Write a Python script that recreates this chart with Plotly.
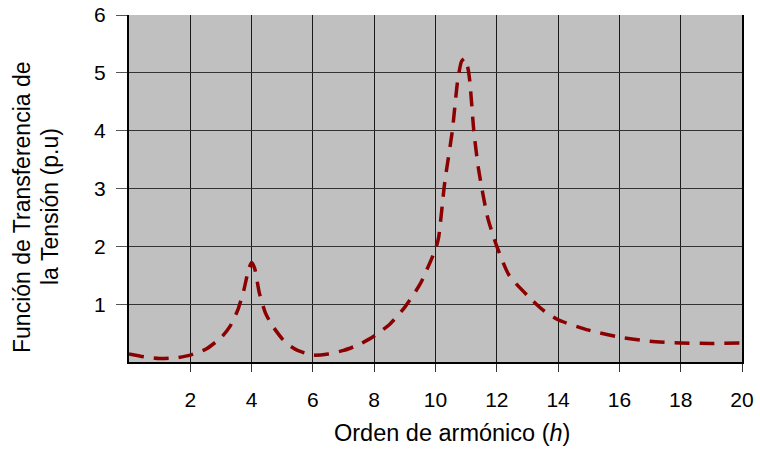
import plotly.graph_objects as go

# harmonic order and voltage transfer function (p.u.)
harmonic = [0, 0.5, 1, 1.5, 2, 2.5, 3, 3.3, 3.55, 3.75, 3.9, 4.0, 4.1, 4.25, 4.45,
            4.65, 5.0, 5.2, 5.5, 6.0, 6.5, 7, 7.5, 8, 8.5, 9, 9.5, 10, 10.1, 10.3,
            10.55, 10.72, 10.85, 10.95, 11.05, 11.12, 11.25, 11.4, 11.7, 12.0, 12.4,
            13, 13.5, 14, 15, 16, 17, 18, 19, 20]
transfer = [0.14, 0.09, 0.06, 0.07, 0.12, 0.22, 0.42, 0.62, 0.9, 1.25, 1.6, 1.72,
            1.62, 1.2, 0.85, 0.65, 0.4, 0.3, 0.2, 0.12, 0.14, 0.2, 0.3, 0.45, 0.65,
            0.95, 1.35, 1.95, 2.15, 3.1, 4.0, 4.85, 5.2, 5.25, 5.1, 4.85, 4.0, 3.35,
            2.5, 2.0, 1.5, 1.15, 0.9, 0.73, 0.55, 0.43, 0.36, 0.33, 0.32, 0.33]

x_ticks = [2, 4, 6, 8, 10, 12, 14, 16, 18, 20]
y_ticks = [1, 2, 3, 4, 5, 6]

x_title = "Orden de armónico (<i>h</i>)"
y_title_lines = ["Función de Transferencia de", "la Tensión (p.u)"]

# plot area in pixels (left, right, top, bottom)
L, R, T, B = 129, 742, 15, 362
W, H = 760, 454


def px_x(p):
    return (p - L) / (R - L)


def px_y(p):
    return (B - p) / (B - T)


fig = go.Figure()
fig.add_scatter(
    x=harmonic,
    y=transfer,
    mode="lines",
    line=dict(color="#8b0000", width=3.5, dash="15px,10px", shape="spline", smoothing=0.6),
    showlegend=False,
)

fig.update_layout(
    width=W,
    height=H,
    margin=dict(l=L, r=W - R, t=T, b=H - B),
    paper_bgcolor="white",
    plot_bgcolor="#c0c0c0",
    font=dict(family="Liberation Sans, Arial", size=21, color="black"),
)
fig.update_xaxes(
    range=[0, 20],
    tickvals=x_ticks,
    ticks="outside",
    ticklen=8,
    tickcolor="#333333",
    ticklabelstandoff=10,
    showgrid=True,
    gridcolor="#1a1a1a",
    gridwidth=1,
    showline=True,
    linecolor="black",
    linewidth=2,
    zeroline=False,
    automargin=False,
)
fig.update_yaxes(
    range=[0, 6],
    tickvals=y_ticks,
    ticks="outside",
    ticklen=11,
    tickcolor="#555555",
    ticklabelstandoff=6,
    showgrid=True,
    gridcolor="#333333",
    gridwidth=1,
    showline=True,
    mirror=True,
    linecolor="black",
    linewidth=2,
    zeroline=False,
    automargin=False,
)

# axis titles placed as annotations to match the original offsets
fig.add_annotation(
    text=x_title,
    xref="paper", yref="paper",
    x=px_x(451.5), y=px_y(433),
    showarrow=False, font=dict(size=23.5),
    xanchor="center", yanchor="middle",
)
for line, cx in zip(y_title_lines, [22, 50]):
    fig.add_annotation(
        text=line,
        xref="paper", yref="paper",
        x=px_x(cx), y=px_y(207),
        showarrow=False, font=dict(size=23), textangle=-90,
        xanchor="center", yanchor="middle",
    )

fig.write_html(
    "out.html",
    config={"displayModeBar": False},
    post_script="document.body.style.margin='0';",
)
